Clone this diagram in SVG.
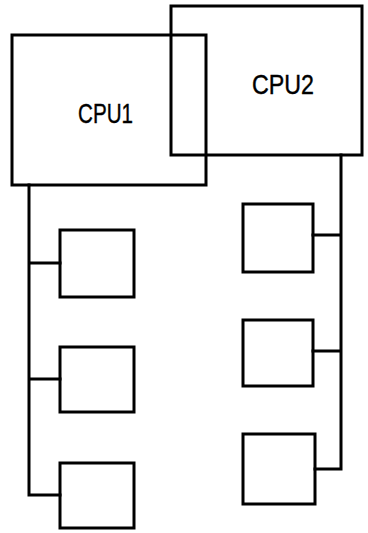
<svg xmlns="http://www.w3.org/2000/svg" width="368" height="533" viewBox="0 0 368 533">
<style>
.b{fill:none;stroke:#000;stroke-width:3}
.c{fill:none;stroke:#000;stroke-width:3;stroke-linecap:square}
.t{font-family:"Liberation Sans",Arial,sans-serif;font-size:28px;fill:#000;stroke:#000;stroke-width:0.4}
</style>
<rect width="368" height="533" fill="#fff"/>
<g id="cpu1"><rect class="b" x="12" y="35" width="194" height="150"/><text class="t" x="78" y="123" textLength="55" lengthAdjust="spacingAndGlyphs">CPU1</text></g>
<g id="cpu2"><rect class="b" x="171" y="6" width="191" height="149"/><text class="t" x="252" y="94" textLength="62" lengthAdjust="spacingAndGlyphs">CPU2</text></g>
<g id="l1"><rect class="b" x="60" y="230" width="74" height="67"/></g>
<g id="l2"><rect class="b" x="60" y="347" width="74" height="65"/></g>
<g id="l3"><rect class="b" x="60" y="463" width="74" height="65"/></g>
<g id="r1"><rect class="b" x="243" y="204" width="70" height="68"/></g>
<g id="r2"><rect class="b" x="243" y="320" width="70" height="66"/></g>
<g id="r3"><rect class="b" x="243" y="434" width="72" height="70"/></g>
<g id="connectors">
<path class="c" d="M29 185 V495 H60 M29 263 H60 M29 379 H60"/>
<path class="c" d="M341 155 V469 H315 M341 235 H313 M341 351 H313"/>
</g>
</svg>
